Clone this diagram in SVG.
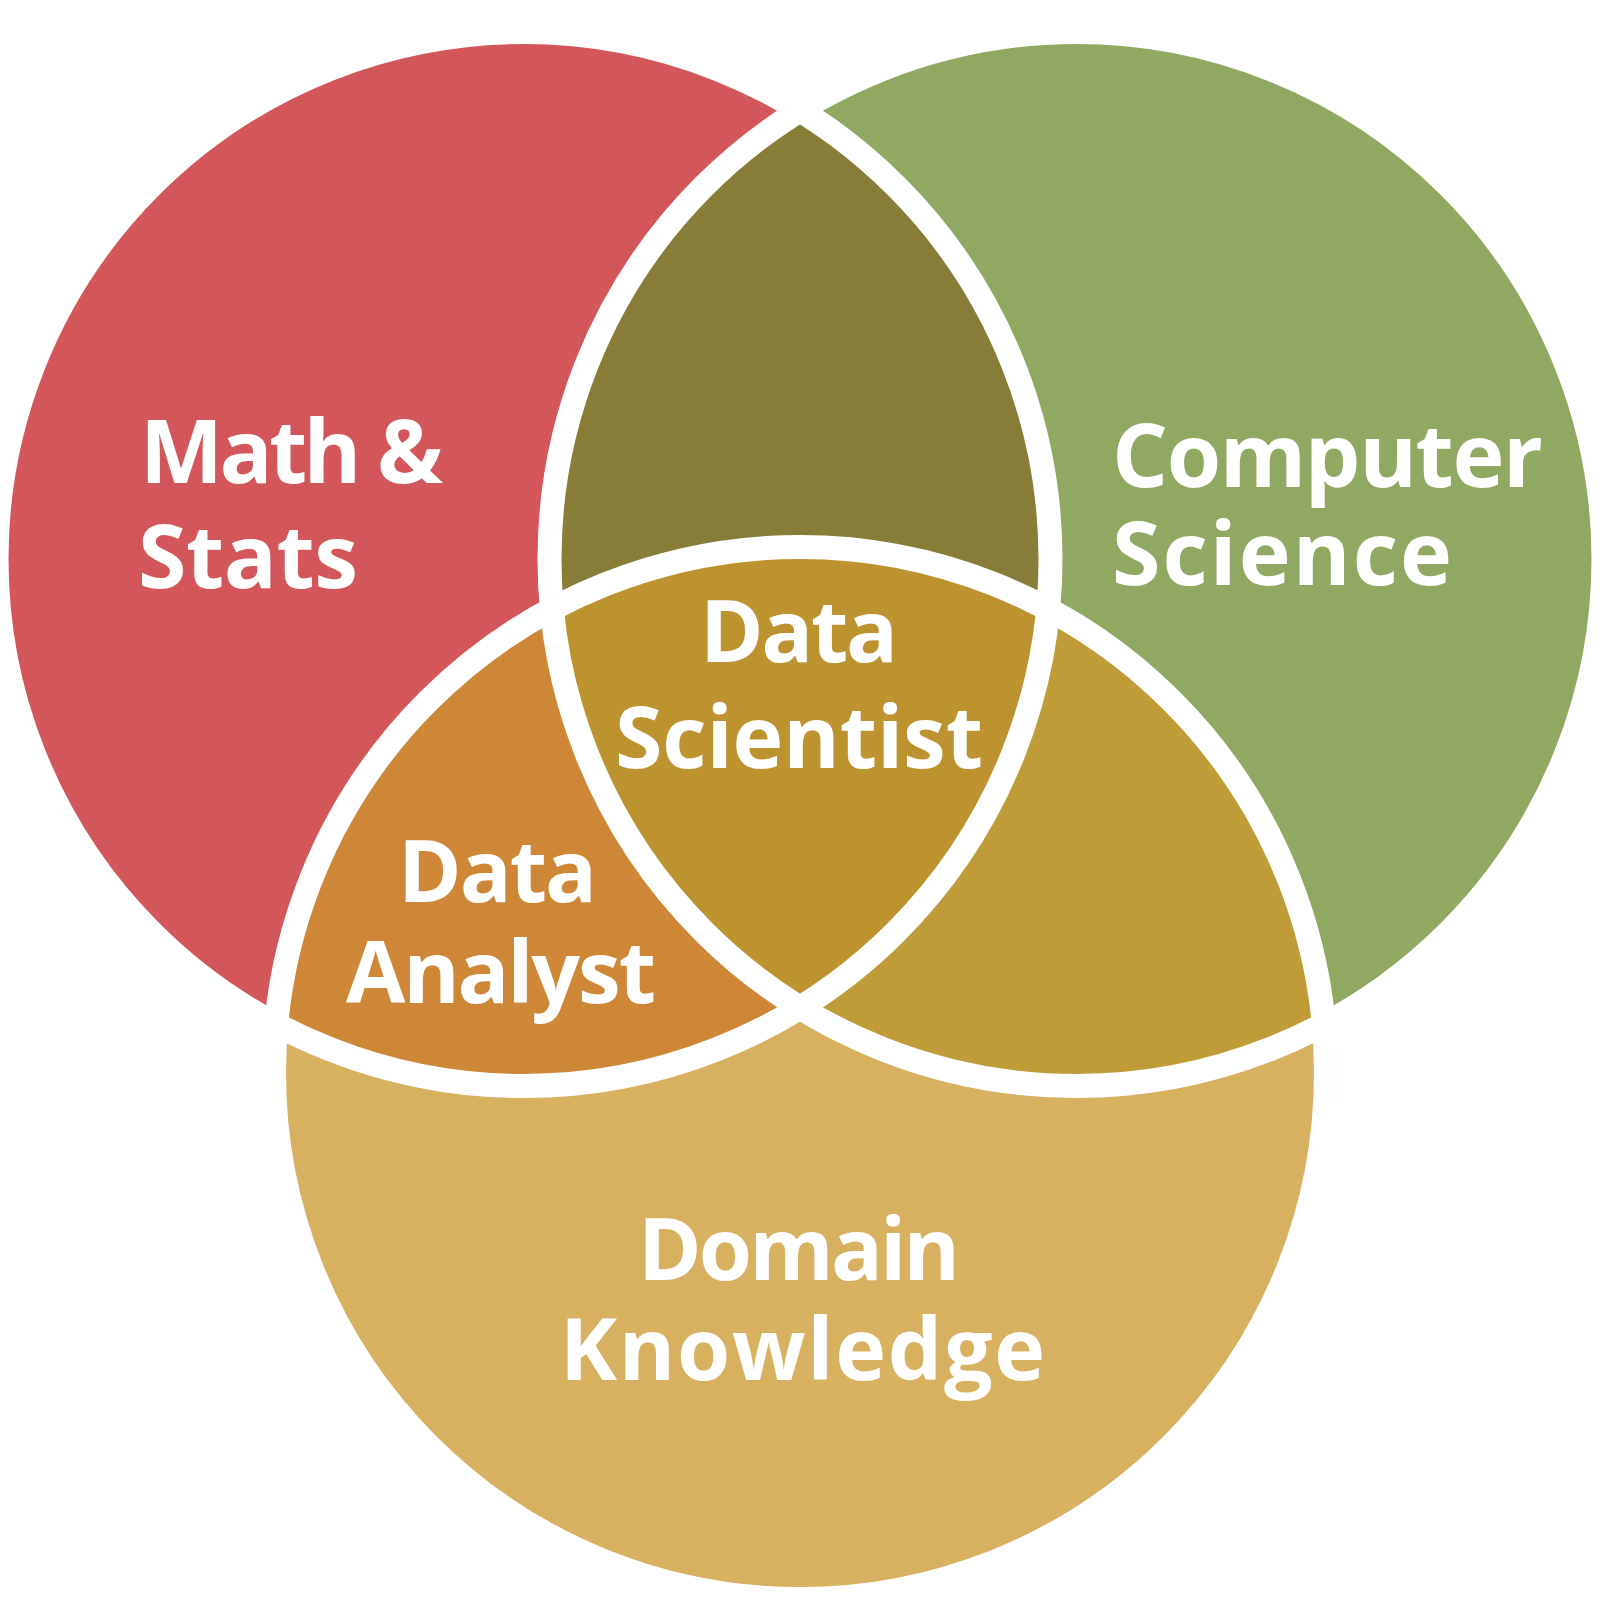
<svg xmlns="http://www.w3.org/2000/svg" width="1600" height="1600" viewBox="0 0 1600 1600">
<style>
.lbl{font-family:"Open Sans","Liberation Sans",sans-serif;font-weight:700;font-size:86px;fill:#ffffff;font-variant-ligatures:none}
.ring{fill:none;stroke:#ffffff;stroke-width:24}
</style>
<defs>
<clipPath id="cRed"><circle cx="523.5" cy="559" r="527"/></clipPath>
<clipPath id="cGreen"><circle cx="1076.5" cy="559" r="527"/></clipPath>
<clipPath id="cYellow"><circle cx="800" cy="1073" r="526"/></clipPath>
</defs>
<rect width="1600" height="1600" fill="#ffffff"/>
<g id="math-stats">
<circle cx="523.5" cy="559" r="527" fill="#D3565B"/>
</g>
<g id="computer-science">
<circle cx="1076.5" cy="559" r="527" fill="#91A862"/>
</g>
<g id="domain-knowledge">
<circle cx="800" cy="1073" r="526" fill="#D8B160"/>
</g>
<g id="math-cs-overlap" clip-path="url(#cRed)">
<circle cx="1076.5" cy="559" r="527" fill="#877D38"/>
</g>
<g id="data-analyst" clip-path="url(#cRed)">
<circle cx="800" cy="1073" r="526" fill="#CD8736"/>
</g>
<g id="cs-domain-overlap" clip-path="url(#cGreen)">
<circle cx="800" cy="1073" r="526" fill="#BF9C38"/>
</g>
<g id="data-scientist" clip-path="url(#cRed)">
<circle cx="1076.5" cy="559" r="527" fill="#BD932F" clip-path="url(#cYellow)"/>
</g>
<g id="outlines">
<circle class="ring" cx="523.5" cy="559" r="527"/>
<circle class="ring" cx="1076.5" cy="559" r="527"/>
<circle class="ring" cx="800" cy="1073" r="526"/>
</g>
<g id="labels">
<text class="lbl" x="140" y="483" textLength="303" style="font-size:88px">Math &amp;</text>
<text class="lbl" x="138" y="588" textLength="220" style="font-size:88px">Stats</text>
<text class="lbl" x="1112" y="487" textLength="431" style="font-size:88px">Computer</text>
<text class="lbl" x="1112" y="585" textLength="340" style="font-size:88px">Science</text>
<text class="lbl" x="700" y="662" textLength="198">Data</text>
<text class="lbl" x="615" y="768" textLength="368">Scientist</text>
<text class="lbl" x="398" y="902" textLength="199">Data</text>
<text class="lbl" x="346" y="1003" textLength="310">Analyst</text>
<text class="lbl" x="638" y="1280" textLength="322">Domain</text>
<text class="lbl" x="560" y="1380" textLength="485">Knowledge</text>
</g>
</svg>
